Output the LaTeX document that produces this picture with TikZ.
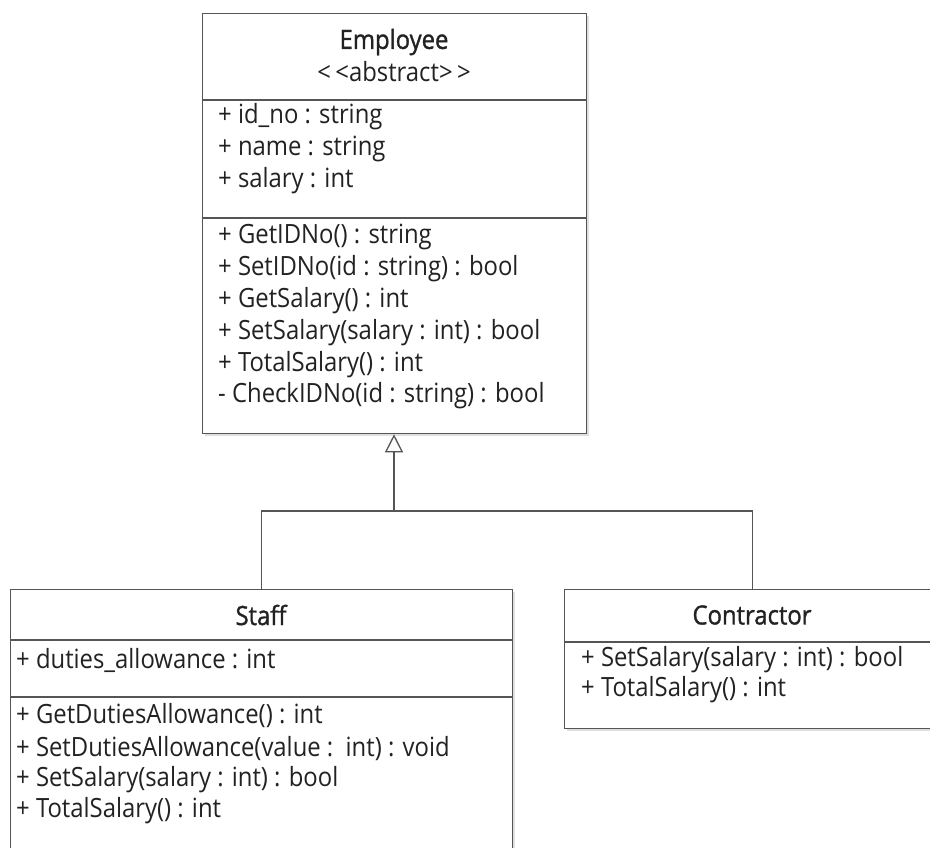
\documentclass[tikz,border=0pt]{standalone}
\usepackage{fontspec}
\setmainfont[FakeStretch=0.9]{Open Sans}
\newfontfamily\titlefont[FakeStretch=0.9,FakeBold=1.2]{Open Sans}
\usetikzlibrary{arrows.meta,shadows}
\definecolor{linec}{HTML}{555555}
\definecolor{txtc}{HTML}{222222}
\tikzset{
  classbox/.style={draw=linec, line width=1.3pt, fill=white, rectangle, anchor=north west, inner sep=0pt,
     drop shadow={opacity=0.25, shadow xshift=2.5pt, shadow yshift=-2.5pt}},
  sep/.style={draw=linec, line width=1.3pt},
  member/.style={anchor=west, inner sep=0pt, text=txtc, font=\fontsize{26.5}{30}\selectfont},
  title/.style={anchor=center, inner sep=0pt, text=txtc, font=\fontsize{26.5}{30}\selectfont\titlefont},
  conn/.style={draw=linec, line width=1.3pt},
  inherit/.style={conn, -{Triangle[open, length=18pt, width=18pt, fill=white]}}
}
\begin{document}
\begin{tikzpicture}[x=1pt,y=-1pt]
\useasboundingbox (0,0) rectangle (930,848);
% Employee
\node[classbox, minimum width=384pt, minimum height=420pt] (emp) at (202,13) {};
\draw[sep] (202,100) -- (586,100);
\draw[sep] (202,218) -- (586,218);
\node[title] (empname) at (394,42) {Employee};
\node[anchor=center, inner sep=0pt, text=txtc, font=\fontsize{26.5}{30}\selectfont] (empst) at (394,72) {<\,<abstract>\,>};
\node[member] (e1) at (218,117) {+ id\_no : string};
\node[member] (e2) at (218,149) {+ name : string};
\node[member] (e3) at (218,181) {+ salary : int};
\node[member] (e4) at (218,237) {+ GetIDNo() : string};
\node[member] (e5) at (218,269) {+ SetIDNo(id : string) : bool};
\node[member] (e6) at (218,301) {+ GetSalary() : int};
\node[member] (e7) at (218,333) {+ SetSalary(salary : int) : bool};
\node[member] (e8) at (218,365) {+ TotalSalary() : int};
\node[member] (e9) at (218,396) {- CheckIDNo(id : string) : bool};
% Staff
\node[classbox, minimum width=502pt, minimum height=280pt] (staff) at (10,589) {};
\draw[sep] (10,640) -- (512,640);
\draw[sep] (10,697) -- (512,697);
\node[title] (staffname) at (261,615) {Staff};
\node[member] (s1) at (16,660) {+ duties\_allowance : int};
\node[member] (s2) at (16,716) {+ GetDutiesAllowance() : int};
\node[member] (s3) at (16,749) {+ SetDutiesAllowance(value :\ \ int) : void};
\node[member] (s4) at (16,780) {+ SetSalary(salary : int) : bool};
\node[member] (s5) at (16,811) {+ TotalSalary() : int};
% Contractor
\node[classbox, minimum width=376pt, minimum height=139pt] (con) at (564,589) {};
\draw[sep] (564,642) -- (940,642);
\node[title] (conname) at (752,615) {Contractor};
\node[member] (c1) at (581,660) {+ SetSalary(salary : int) : bool};
\node[member] (c2) at (581,690) {+ TotalSalary() : int};
% Inheritance
\coordinate (join) at (394,511);
\draw[conn] (staff.north) |- (join);
\draw[conn] (con.north) |- (join);
\draw[inherit] (join) -- (join |- emp.south);
\end{tikzpicture}
\end{document}
